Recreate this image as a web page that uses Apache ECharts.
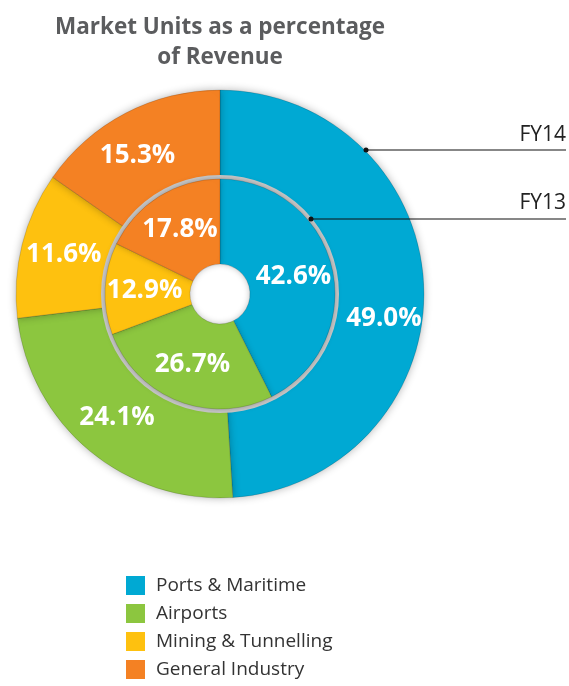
<!DOCTYPE html>
<html>
<head>
<meta charset="utf-8">
<script src="https://cdn.jsdelivr.net/npm/echarts@6/dist/echarts.min.js"></script>
<style>
html,body{margin:0;padding:0;background:#fff;}
#main{width:569px;height:686px;}
</style>
</head>
<body>
<div id="main"></div>
<script>
var categories = ['Ports & Maritime', 'Airports', 'Mining & Tunnelling', 'General Industry'];
var fy14 = [49.0, 24.1, 11.6, 15.3];
var fy13 = [42.6, 26.7, 12.9, 17.8];
var colors = ['#00a9d3', '#8cc63f', '#fec10f', '#f48123'];

function toData(values){
    var out = [];
    for (var i = 0; i < values.length; i++) {
        out.push({ name: categories[i], value: values[i] });
    }
    return out;
}

var dom = document.getElementById('main');
var myChart = echarts.init(dom);

var labelStyle = {
    show: true,
    position: 'inside',
    color: '#fff',
    fontFamily: 'Open Sans',
    fontWeight: 'bold',
    fontSize: 26,
    formatter: function (p) { return p.value.toFixed(1) + '%'; }
};

var outerData = toData(fy14);
// the big slice label sits a bit lower in the original
outerData[0].label = { offset: [3, 30] };
outerData[3].label = { offset: [-8, 4] };

var option = {
    color: colors,
    title: {
        text: 'Market Units as a percentage\nof Revenue',
        left: 215,
        top: 8,
        textAlign: 'center',
        textStyle: {
            color: '#5b5c5e',
            fontFamily: 'Open Sans',
            fontWeight: 'bold',
            fontSize: 22.5,
            lineHeight: 30
        }
    },
    legend: {
        orient: 'vertical',
        left: 126,
        top: 576,
        height: 200,
        padding: 0,
        itemWidth: 19,
        itemHeight: 19,
        itemGap: 9,
        icon: 'rect',
        itemStyle: { borderWidth: 0 },
        data: categories,
        textStyle: {
            color: '#333',
            fontFamily: 'Open Sans',
            fontSize: 19,
            lineHeight: 19,
            padding: [0, 0, 0, 6]
        }
    },
    series: [
        {
            name: 'FY14',
            type: 'pie',
            center: [220, 294],
            radius: [112, 204],
            startAngle: 90,
            clockwise: true,
            silent: true,
            itemStyle: {
                shadowBlur: 8,
                shadowColor: 'rgba(0,0,0,0.3)',
                borderColor: 'rgba(0,0,0,0.15)',
                borderWidth: 1
            },
            label: labelStyle,
            labelLine: { show: false },
            data: outerData
        },
        {
            name: 'ring',
            type: 'pie',
            center: [220, 294],
            radius: [113, 119],
            silent: true,
            label: { show: false },
            itemStyle: { color: '#c9c9c9' },
            data: [{ name: 'ring', value: 1 }],
            z: 3
        },
        {
            name: 'FY13',
            type: 'pie',
            center: [220, 294],
            radius: [30, 115],
            startAngle: 90,
            clockwise: true,
            silent: true,
            itemStyle: {
                shadowBlur: 6,
                shadowColor: 'rgba(0,0,0,0.25)',
                borderColor: 'rgba(0,0,0,0.15)',
                borderWidth: 1
            },
            label: labelStyle,
            labelLine: { show: false },
            data: toData(fy13),
            z: 4
        }
    ],
    graphic: [
        { type: 'line', shape: { x1: 366, y1: 150, x2: 566, y2: 150 }, style: { stroke: '#111', lineWidth: 1.2 }, z: 100 },
        { type: 'circle', shape: { cx: 366, cy: 150, r: 2.5 }, style: { fill: '#111' }, z: 100 },
        { type: 'text', x: 566, y: 135, style: { text: 'FY14', fill: '#222', font: '21px "Open Sans"', align: 'right', verticalAlign: 'middle' }, z: 100 },
        { type: 'line', shape: { x1: 311, y1: 219, x2: 566, y2: 219 }, style: { stroke: '#111', lineWidth: 1.2 }, z: 100 },
        { type: 'circle', shape: { cx: 311, cy: 219, r: 2.5 }, style: { fill: '#111' }, z: 100 },
        { type: 'text', x: 566, y: 203, style: { text: 'FY13', fill: '#222', font: '21px "Open Sans"', align: 'right', verticalAlign: 'middle' }, z: 100 }
    ]
};

if (option && typeof option === "object") {
    myChart.setOption(option, true);
}
</script>
</body>
</html>
